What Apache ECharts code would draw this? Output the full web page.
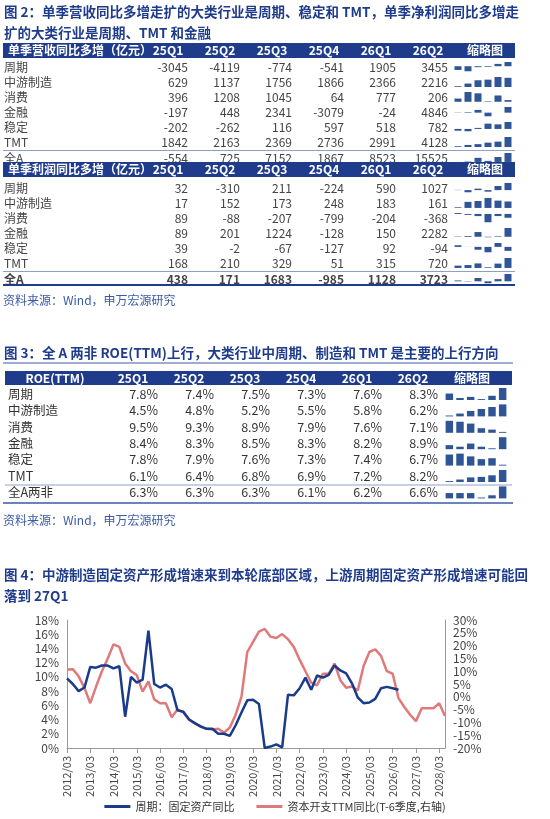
<!DOCTYPE html>
<html><head><meta charset="utf-8">
<script src="https://cdn.jsdelivr.net/npm/echarts@6/dist/echarts.min.js"></script>
<style>html,body{margin:0;padding:0;background:#fff}#c{width:550px;height:819px}</style>
</head><body><div id="c"></div>
<script>
const quarters = ['25Q1','25Q2','25Q3','25Q4','26Q1','26Q2'];
const rowNames = ['周期','中游制造','消费','金融','稳定','TMT','全A'];
const revVals = [[-3045,-4119,-774,-541,1905,3455],[629,1137,1756,1866,2366,2216],[396,1208,1045,64,777,206],[-197,448,2341,-3079,-24,4846],[-202,-262,116,597,518,782],[1842,2163,2369,2736,2991,4128],[-554,725,7152,1867,8523,15525]];
const profVals = [[32,-310,211,-224,590,1027],[17,152,173,248,183,161],[89,-88,-207,-799,-204,-368],[89,201,1224,-128,150,2282],[39,-2,-67,-127,92,-94],[168,210,329,51,315,720],[438,171,1683,-985,1128,3723]];
const roeNames = ['周期','中游制造','消费','金融','稳定','TMT','全A两非'];
const roeVals = [[7.8,7.4,7.5,7.3,7.6,8.3],[4.5,4.8,5.2,5.5,5.8,6.2],[9.5,9.3,8.9,7.9,7.6,7.1],[8.4,8.3,8.5,8.3,8.2,8.9],[7.8,7.9,7.6,7.3,7.4,6.7],[6.1,6.4,6.8,6.9,7.2,8.2],[6.3,6.3,6.3,6.1,6.2,6.6]];
const dates = [];
for (let y=2012;y<=2028;y++){for (const m of ['03','06','09','12']){dates.push(y+'/'+m);}}
dates.splice(dates.indexOf('2028/06')+1);
const capexBlue = [9.8,9.0,8.0,8.5, 11.4,11.3,11.6,11.6, 11.2,11.5,4.4,10.0, 9.2,9.6,16.5,9.0, 8.5,8.9,8.3,5.3, 5.1,4.0,3.5,3.0, 2.7,2.7,2.0,2.0, 1.7,3.2,5.0,6.7, 6.8,6.2,0.0,0.2, 0.5,0.1,7.5,7.4, 8.4,9.9,8.2,10.2, 9.9,10.3,11.6,10.9, 10.5,9.1,7.1,6.3, 6.4,6.9,8.4,8.6, 8.4,8.2];
const capexRed = [10.7,10.8,8,3.5, -2.5,4,10,15, 20.5,19.5,13,10, 8.5,2,6,-1, -2.5,-2.5,-8,-5, -6,-9,-10.5,-11.5, -12.5,-12.8,-12.5,-14, -12,-7,0,17.5, 21.5,25.5,26.5,23.5, 23,24.5,22.5,19.5, 14.5,10,5.5,4.5, 9,9,13,6.5, 3.5,4,2.5,12, 17.5,18.5,16,10, 9,-0.5,-4,-7, -9.5,-4.5,-4.5,-4.5, -2.5,-7.5];

const NAVY='#1f3c8c', TXT='#333', BAR='#2f5597', FONT='"Noto Sans CJK SC","Noto Sans",sans-serif';
const g=[], grids=[], xAxes=[], yAxes=[], series=[];
function txt(x,y,s,o){g.push({type:'text',x:x,y:y,style:Object.assign({text:s,fill:TXT,font:'12px '+FONT,textAlign:'left',textVerticalAlign:'middle'},o||{})});}
function rect(x,y,w,h,c){g.push({type:'rect',shape:{x:x,y:y,width:w,height:h},style:{fill:c}});}
function line(x1,y,x2,c,w){g.push({type:'line',shape:{x1:x1,y1:y,x2:x2,y2:y},style:{stroke:c,lineWidth:w}});}
function spark(x,yc,w,h,vals){
  const i=grids.length, mn=Math.min(...vals), mx=Math.max(...vals);
  grids.push({left:x,top:yc-h/2,width:w,height:h});
  xAxes.push({type:'category',gridIndex:i,data:quarters,show:false});
  yAxes.push({type:'value',gridIndex:i,show:false,min:mn-(mx-mn)*0.08,max:mx});
  series.push({type:'bar',xAxisIndex:i,yAxisIndex:i,data:vals,barWidth:'70%',itemStyle:{color:BAR},silent:true,animation:false});
}
function titleLines(arr,y0){arr.forEach((s,k)=>txt(4,y0+k*21,s,{fill:NAVY,font:'bold 13.5px '+FONT}));}

// Figure 2
titleLines(['图 2：单季营收同比多增走扩的大类行业是周期、稳定和 TMT，单季净利润同比多增走','扩的大类行业是周期、TMT 和金融'],12);
const colR1=[188,240,292,344,396,448];
function table1(hy,off,label,names,vals,bottomBold){
  rect(3,hy-7,512,15,NAVY);
  txt(8,hy,label,{fill:'#fff',font:'bold 12px '+FONT});
  quarters.forEach((q,k)=>txt(colR1[k]-20,hy,q,{fill:'#fff',font:'bold 12px '+FONT,textAlign:'center'}));
  txt(485,hy,'缩略图',{fill:'#fff',font:'bold 12px '+FONT,textAlign:'center'});
  names.forEach((n,r)=>{
    const y=hy+off+r*15 + (r===6?1:0);
    const bold=(r===6&&bottomBold)?'bold ':'';
    txt(4,y,n,{font:bold+'12px '+FONT,fill:'#444'});
    vals[r].forEach((v,k)=>txt(colR1[k],y,String(v),{font:bold+'12px '+FONT,textAlign:'right',fill:'#444'}));
    spark(453,y,60,10,vals[r]);
  });
  line(3,hy+off+5.5*15+1,515,'#8ea0c8',1);
}
table1(50,17,'单季营收同比多增（亿元）',rowNames,revVals,false);
table1(169,19,'单季利润同比多增（亿元）',rowNames,profVals,true);
line(3,285,515,NAVY,2);
txt(3,300,'资料来源：Wind，申万宏源研究',{fill:'#3a5ba8',font:'12px '+FONT});

// Figure 3
txt(4,353,'图 3：全 A 两非 ROE(TTM)上行，大类行业中周期、制造和 TMT 是主要的上行方向',{fill:NAVY,font:'bold 13.5px '+FONT});
line(3,363,513,'#3a5ba8',1.2);
rect(5,371,507,14,NAVY);
const colR3=[158,214,270,326,382,438];
txt(55,378,'ROE(TTM)',{fill:'#fff',font:'bold 12px '+FONT,textAlign:'center'});
quarters.forEach((q,k)=>txt(colR3[k]-25,378,q,{fill:'#fff',font:'bold 12px '+FONT,textAlign:'center'}));
txt(472,378,'缩略图',{fill:'#fff',font:'bold 12px '+FONT,textAlign:'center'});
roeNames.forEach((n,r)=>{
  const y=394+r*16.4;
  txt(8,y,n,{font:'12.5px '+FONT,fill:'#333'});
  roeVals[r].forEach((v,k)=>txt(colR3[k],y,v.toFixed(1)+'%',{font:'12.5px '+FONT,textAlign:'right',fill:'#333'}));
  spark(444,y,64,12,roeVals[r]);
});
line(5,485,512,'#8ea0c8',1);
line(3,503,513,'#3a5ba8',1.5);
txt(3,520,'资料来源：Wind，申万宏源研究',{fill:'#3a5ba8',font:'12px '+FONT});

// Figure 4
titleLines(['图 4：中游制造固定资产形成增速来到本轮底部区域，上游周期固定资产形成增速可能回','落到 27Q1'],575);
const gi=grids.length;
grids.push({left:67,top:620,width:378,height:128});
xAxes.push({type:'category',gridIndex:gi,data:dates,boundaryGap:false,
  axisLine:{lineStyle:{color:'#999'}},axisTick:{show:true,interval:(i,v)=>v.endsWith('/03'),lineStyle:{color:'#999'}},
  axisLabel:{rotate:90,fontSize:11,color:'#444',fontFamily:FONT,interval:(i,v)=>v.endsWith('/03')}});
yAxes.push({type:'value',gridIndex:gi,min:0,max:18,interval:2,splitLine:{show:false},
  axisLine:{show:true,lineStyle:{color:'#999'}},axisTick:{show:false},
  axisLabel:{formatter:'{value}%',fontSize:12,color:'#444',fontFamily:FONT}});
yAxes.push({type:'value',gridIndex:gi,position:'right',min:-20,max:30,interval:5,splitLine:{show:false},
  axisLine:{show:true,lineStyle:{color:'#999'}},axisTick:{show:false},
  axisLabel:{formatter:'{value}%',fontSize:12,color:'#444',fontFamily:FONT}});
const yl=yAxes.length;
series.push({name:'周期：固定资产同比',type:'line',xAxisIndex:xAxes.length-1,yAxisIndex:yl-2,data:capexBlue,symbol:'none',lineStyle:{color:'#1a3a8a',width:2.5},itemStyle:{color:'#1a3a8a'},z:3,animation:false});
series.push({name:'资本开支TTM同比(T-6季度,右轴)',type:'line',xAxisIndex:xAxes.length-1,yAxisIndex:yl-1,data:capexRed,symbol:'none',lineStyle:{color:'#e07a7a',width:2.5},itemStyle:{color:'#e07a7a'},z:2,animation:false});

const chart=echarts.init(document.getElementById('c'));
chart.setOption({animation:false,grid:grids,xAxis:xAxes,yAxis:yAxes,series:series,graphic:g,
  legend:{data:['周期：固定资产同比','资本开支TTM同比(T-6季度,右轴)'],bottom:2,left:'center',itemWidth:26,itemHeight:3,icon:'rect',itemGap:22,
    textStyle:{fontSize:11,color:'#333',fontFamily:FONT}}});
</script></body></html>
